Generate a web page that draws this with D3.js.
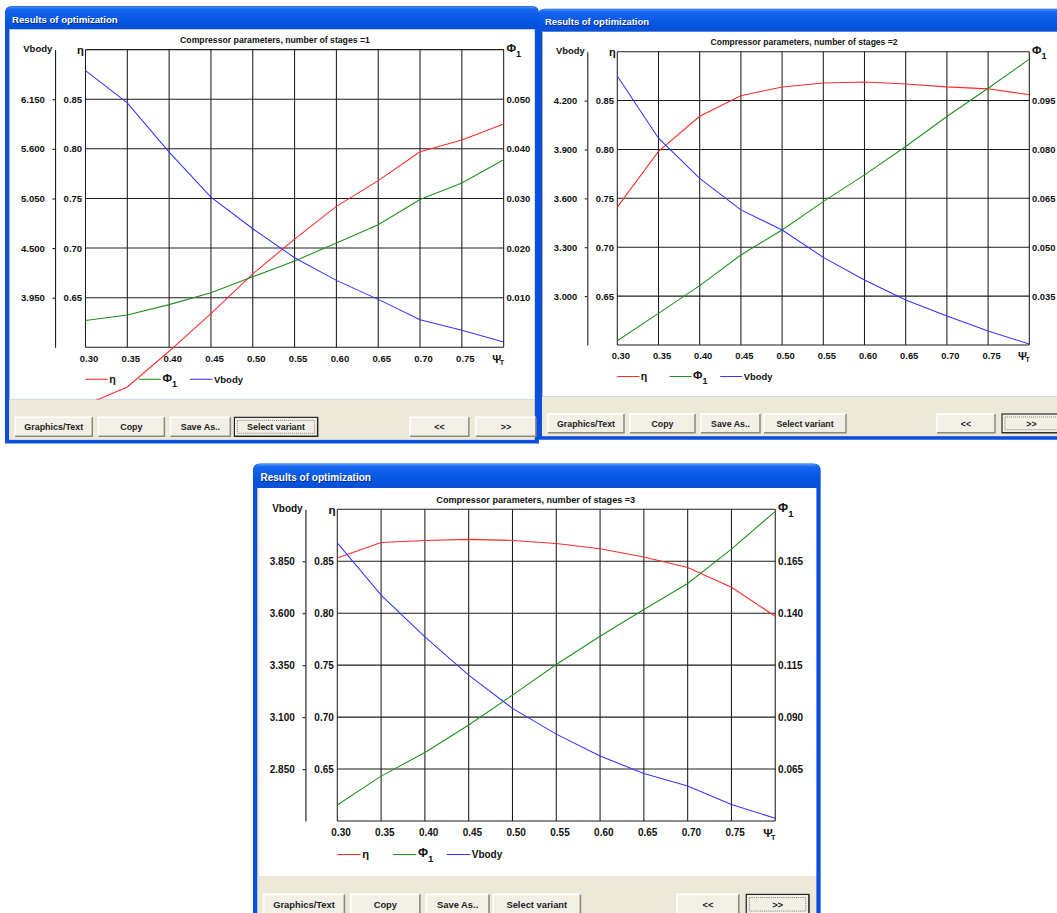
<!DOCTYPE html>
<html>
<head>
<meta charset="utf-8">
<script src="https://cdn.jsdelivr.net/npm/d3@7"></script>
<style>
  body { margin: 0; background: #fff; }
  svg { display: block; font-family: "Liberation Sans", Arial, sans-serif; }
</style>
</head>
<body>
<svg id="chart" width="1057" height="913"></svg>
<script>
// x values (psi_T) shared by every dialog
var psi = [0.30, 0.35, 0.40, 0.45, 0.50, 0.55, 0.60, 0.65, 0.70, 0.75, 0.80];
var psiTicks = [0.30, 0.35, 0.40, 0.45, 0.50, 0.55, 0.60, 0.65, 0.70, 0.75];
var etaTicks = [0.65, 0.70, 0.75, 0.80, 0.85];

// number of stages = 1
var eta1   = [0.542, 0.560, 0.596, 0.634, 0.674, 0.709, 0.742, 0.768, 0.797, 0.809, 0.825];
var phi1   = [0.0054, 0.0065, 0.0086, 0.0110, 0.0142, 0.0174, 0.0210, 0.0247, 0.0298, 0.0331, 0.0378];
var vbody1 = [6.467, 6.110, 5.563, 5.065, 4.714, 4.393, 4.142, 3.931, 3.706, 3.588, 3.459];
var vTicks1 = [3.950, 4.500, 5.050, 5.600, 6.150];
var phiTicks1 = [0.010, 0.020, 0.030, 0.040, 0.050];

// number of stages = 2
var eta2   = [0.741, 0.798, 0.834, 0.855, 0.864, 0.868, 0.869, 0.867, 0.864, 0.862, 0.856];
var phi2   = [0.0213, 0.0297, 0.0382, 0.0476, 0.0553, 0.0640, 0.0722, 0.0809, 0.0901, 0.0988, 0.1077];
var vbody2 = [4.351, 3.969, 3.723, 3.529, 3.406, 3.238, 3.099, 2.976, 2.878, 2.786, 2.706];
var vTicks2 = [3.000, 3.300, 3.600, 3.900, 4.200];
var phiTicks2 = [0.035, 0.050, 0.065, 0.080, 0.095];

// number of stages = 3
var eta3   = [0.853, 0.868, 0.870, 0.871, 0.870, 0.867, 0.862, 0.854, 0.844, 0.825, 0.797];
var phi3   = [0.0477, 0.0616, 0.0730, 0.0862, 0.1006, 0.1153, 0.1289, 0.1418, 0.1543, 0.1708, 0.1890];
var vbody3 = [3.938, 3.687, 3.486, 3.302, 3.142, 3.018, 2.913, 2.829, 2.768, 2.680, 2.613];
var vTicks3 = [2.850, 3.100, 3.350, 3.600, 3.850];
var phiTicks3 = [0.065, 0.090, 0.115, 0.140, 0.165];

var buttonLabels = ["Graphics/Text", "Copy", "Save As..", "Select variant", "<<", ">>"];

// dialog layout, in unscaled dialog units (origin = client area top-left)
var L = {
  top: -23, client: 365, gray: 404.5, bottom: 408,
  plot: {left: 79.3, right: 491.3, top: 20, bottom: 313.3},
  vAxis: 49.3
};
var btnX = [10, 92, 163, 226, 399, 464], btnW = [76, 65, 59, 82, 58, 59];

var colors = {eta: "#ff2a2a", phi: "#1f8f1f", vbody: "#3434ff", grid: "#1c1c1c"};

var svg = d3.select("#chart");
var defs = svg.append("defs");
var tb = defs.append("linearGradient").attr("id", "titlebar")
  .attr("x1", 0).attr("y1", 0).attr("x2", 0).attr("y2", 1);
tb.append("stop").attr("offset", 0).attr("stop-color", "#4a97fb");
tb.append("stop").attr("offset", 0.12).attr("stop-color", "#1767ee");
tb.append("stop").attr("offset", 0.6).attr("stop-color", "#0457e3");
tb.append("stop").attr("offset", 1).attr("stop-color", "#0a4fd4");

function resultsWindow(opt) {
  var g = svg.append("g")
    .attr("transform", "translate(" + opt.x + "," + opt.y + ") scale(" + opt.s + ")");
  var P = L.plot, W = opt.width;

  // frame
  g.append("path")
    .attr("d", "M0," + (L.top + 7) + "Q0," + L.top + " 7," + L.top + "H" + (W - 7) +
      "Q" + W + "," + L.top + " " + W + "," + (L.top + 7) + "V" + L.bottom + "H0Z")
    .attr("fill", "#0a50dc");
  g.append("rect").attr("x", 0.5).attr("y", L.top + 0.5).attr("width", W - 1).attr("height", 22)
    .attr("rx", 6).attr("fill", "url(#titlebar)");
  g.append("text").attr("x", 7.8).attr("y", -5.7)
    .attr("fill", "#0b2a80").attr("font-size", 9.5).attr("font-weight", "bold")
    .attr("textLength", 104).attr("lengthAdjust", "spacingAndGlyphs")
    .text("Results of optimization");
  g.append("text").attr("x", 7).attr("y", -6.5)
    .attr("fill", "#fff").attr("font-size", 9.5).attr("font-weight", "bold")
    .attr("textLength", 104).attr("lengthAdjust", "spacingAndGlyphs")
    .text("Results of optimization");

  g.append("rect").attr("x", 4).attr("y", 0).attr("width", W - 8).attr("height", L.client)
    .attr("fill", "#fff");
  g.append("rect").attr("x", 4).attr("y", L.client).attr("width", W - 8).attr("height", L.gray - L.client)
    .attr("fill", "#ece9d8");
  g.append("line").attr("x1", 4.5).attr("x2", 4.5).attr("y1", 0).attr("y2", L.client)
    .attr("stroke", "#b8b6ac").attr("stroke-width", 1);

  // buttons
  buttonLabels.forEach(function(t, i) {
    var bx = btnX[i], by = 382.3, bw = btnW[i], bh = 18.7;
    var b = g.append("g");
    b.append("rect").attr("x", bx).attr("y", by).attr("width", bw).attr("height", bh)
      .attr("fill", "#f1efe6");
    b.append("path").attr("d", "M" + bx + "," + (by + bh) + "V" + by + "H" + (bx + bw))
      .attr("fill", "none").attr("stroke", "#fff").attr("stroke-width", 1.5);
    b.append("path").attr("d", "M" + bx + "," + (by + bh) + "H" + (bx + bw) + "V" + by)
      .attr("fill", "none").attr("stroke", "#8d8a7c").attr("stroke-width", 1.5);
    if (i === opt.focus) {
      b.append("rect").attr("x", bx).attr("y", by).attr("width", bw).attr("height", bh)
        .attr("fill", "none").attr("stroke", "#222").attr("stroke-width", 1.2);
      b.append("rect").attr("x", bx + 3).attr("y", by + 3).attr("width", bw - 6).attr("height", bh - 6)
        .attr("fill", "none").attr("stroke", "#555").attr("stroke-width", 0.7)
        .attr("stroke-dasharray", "1,1");
    }
    b.append("text").attr("x", bx + bw / 2).attr("y", by + 12.8)
      .attr("text-anchor", "middle").attr("font-size", 8.8).attr("font-weight", "bold")
      .attr("fill", "#222").text(t);
  });

  // scales
  var x = d3.scaleLinear().domain([0.30, 0.80]).range([P.left, P.right]);
  var yEta = d3.scaleLinear().domain([0.60, 0.90]).range([P.bottom, P.top]);
  var yV = d3.scaleLinear().domain(opt.vDomain).range([P.bottom, P.top]);
  var yPhi = d3.scaleLinear().domain(opt.phiDomain).range([P.bottom, P.top]);

  // chart title
  g.append("text").attr("x", 266).attr("y", 13.8).attr("text-anchor", "middle")
    .attr("font-size", 8.6).attr("font-weight", "bold").attr("fill", "#111")
    .attr("textLength", 187).attr("lengthAdjust", "spacingAndGlyphs")
    .text("Compressor parameters, number of stages =" + opt.stages);

  // grid
  var grid = g.append("g").attr("stroke", colors.grid).attr("stroke-width", 1.05 / opt.s);
  grid.selectAll("line.v").data(psi).enter().append("line")
    .attr("x1", function(d) { return x(d); }).attr("x2", function(d) { return x(d); })
    .attr("y1", P.top).attr("y2", P.bottom);
  grid.selectAll("line.h").data(etaTicks.concat([0.60, 0.90])).enter().append("line")
    .attr("x1", P.left).attr("x2", P.right)
    .attr("y1", function(d) { return yEta(d); }).attr("y2", function(d) { return yEta(d); });

  function styleAxis(sel, size) {
    sel.attr("font-family", null).attr("font-size", size).attr("font-weight", "bold");
    sel.selectAll("text").attr("fill", "#111");
  }

  // Vbody axis (separate line on the left)
  var vAxis = g.append("g").attr("transform", "translate(" + L.vAxis + ",0)")
    .call(d3.axisLeft(yV).tickValues(opt.vTicks).tickFormat(d3.format(".3f"))
      .tickSize(2.6).tickSizeOuter(0).tickPadding(7.4));
  styleAxis(vAxis, 9.4);
  vAxis.selectAll("path, line").attr("stroke", "#222").attr("stroke-width", 1.1);

  // eta axis labels
  var eAxis = g.append("g").attr("transform", "translate(" + P.left + ",0)")
    .call(d3.axisLeft(yEta).tickValues(etaTicks).tickFormat(d3.format(".2f"))
      .tickSize(0).tickPadding(3.3));
  styleAxis(eAxis, 9.4);
  eAxis.select(".domain").remove();

  // phi axis labels
  var pAxis = g.append("g").attr("transform", "translate(" + P.right + ",0)")
    .call(d3.axisRight(yPhi).tickValues(opt.phiTicks).tickFormat(d3.format(".3f"))
      .tickSize(0).tickPadding(2.7));
  styleAxis(pAxis, 9.4);
  pAxis.select(".domain").remove();

  // psi axis labels
  var xAxis = g.append("g").attr("transform", "translate(0," + P.bottom + ")")
    .call(d3.axisBottom(x).tickValues(psiTicks).tickFormat(d3.format(".2f"))
      .tickSize(0).tickPadding(7.6));
  styleAxis(xAxis, 9.4);
  xAxis.select(".domain").remove();
  xAxis.selectAll("text").attr("dx", 3);

  // axis captions
  var cap = g.append("g").attr("font-weight", "bold").attr("fill", "#111");
  cap.append("text").attr("x", 46.7).attr("y", 22.5).attr("text-anchor", "end")
    .attr("font-size", 9.4).text("Vbody");
  cap.append("text").attr("x", 71).attr("y", 24.5).attr("font-size", 11).text("η");
  var pc = cap.append("text").attr("x", 494).attr("y", 22.5).attr("font-size", 11.5);
  pc.append("tspan").text("Φ");
  pc.append("tspan").attr("dy", 4.5).attr("font-size", 9).text("1");
  var sc = cap.append("text").attr("x", 480).attr("y", P.bottom + 15).attr("font-size", 11);
  sc.append("tspan").text("Ψ");
  sc.append("tspan").attr("dy", 2.5).attr("dx", -1.5).attr("font-size", 7).text("T");

  // series, clipped to the white client area
  var clipId = "clip" + opt.stages;
  defs.append("clipPath").attr("id", clipId).append("rect")
    .attr("x", 4).attr("y", 0).attr("width", W - 8).attr("height", L.client);
  var series = [
    {key: "eta", values: opt.eta, y: yEta},
    {key: "phi", values: opt.phi, y: yPhi},
    {key: "vbody", values: opt.vbody, y: yV}
  ];
  var lines = g.append("g").attr("clip-path", "url(#" + clipId + ")");
  lines.selectAll("path").data(series).enter().append("path")
    .attr("fill", "none")
    .attr("stroke", function(d) { return colors[d.key]; })
    .attr("stroke-width", 1.05 / opt.s)
    .attr("d", function(s) {
      return d3.line()
        .x(function(d, i) { return x(psi[i]); })
        .y(function(d) { return s.y(d); })(s.values);
    });

  // legend
  var ly = P.bottom + 31.5, pw = P.right - P.left;
  var leg = g.append("g").attr("font-weight", "bold").attr("fill", "#111");
  [0, 0.127, 0.25].forEach(function(f, i) {
    var lx = P.left + f * pw;
    leg.append("line").attr("x1", lx).attr("x2", lx + 22).attr("y1", ly).attr("y2", ly)
      .attr("stroke", colors[series[i].key]).attr("stroke-width", 1.05 / opt.s);
    var t = leg.append("text").attr("x", lx + 23.5).attr("y", ly + 3.5);
    if (i === 0) t.attr("font-size", 10.5).text("η");
    if (i === 1) {
      t.attr("font-size", 11.5).attr("y", ly + 2.5);
      t.append("tspan").text("Φ");
      t.append("tspan").attr("dy", 5).attr("font-size", 9).text("1");
    }
    if (i === 2) t.attr("font-size", 9.4).text("Vbody");
  });
}

resultsWindow({x: 5, y: 29.3, s: 1.015, width: 526, stages: 1, focus: 3,
  eta: eta1, phi: phi1, vbody: vbody1,
  vDomain: [3.400, 6.700], vTicks: vTicks1, phiDomain: [0, 0.060], phiTicks: phiTicks1});
resultsWindow({x: 538, y: 31.7, s: 1, width: 534, stages: 2, focus: 5,
  eta: eta2, phi: phi2, vbody: vbody2,
  vDomain: [2.700, 4.500], vTicks: vTicks2, phiDomain: [0.020, 0.110], phiTicks: phiTicks2});
resultsWindow({x: 253, y: 488, s: 1.063, width: 534, stages: 3, focus: 5,
  eta: eta3, phi: phi3, vbody: vbody3,
  vDomain: [2.600, 4.100], vTicks: vTicks3, phiDomain: [0.040, 0.190], phiTicks: phiTicks3});
</script>
</body>
</html>
